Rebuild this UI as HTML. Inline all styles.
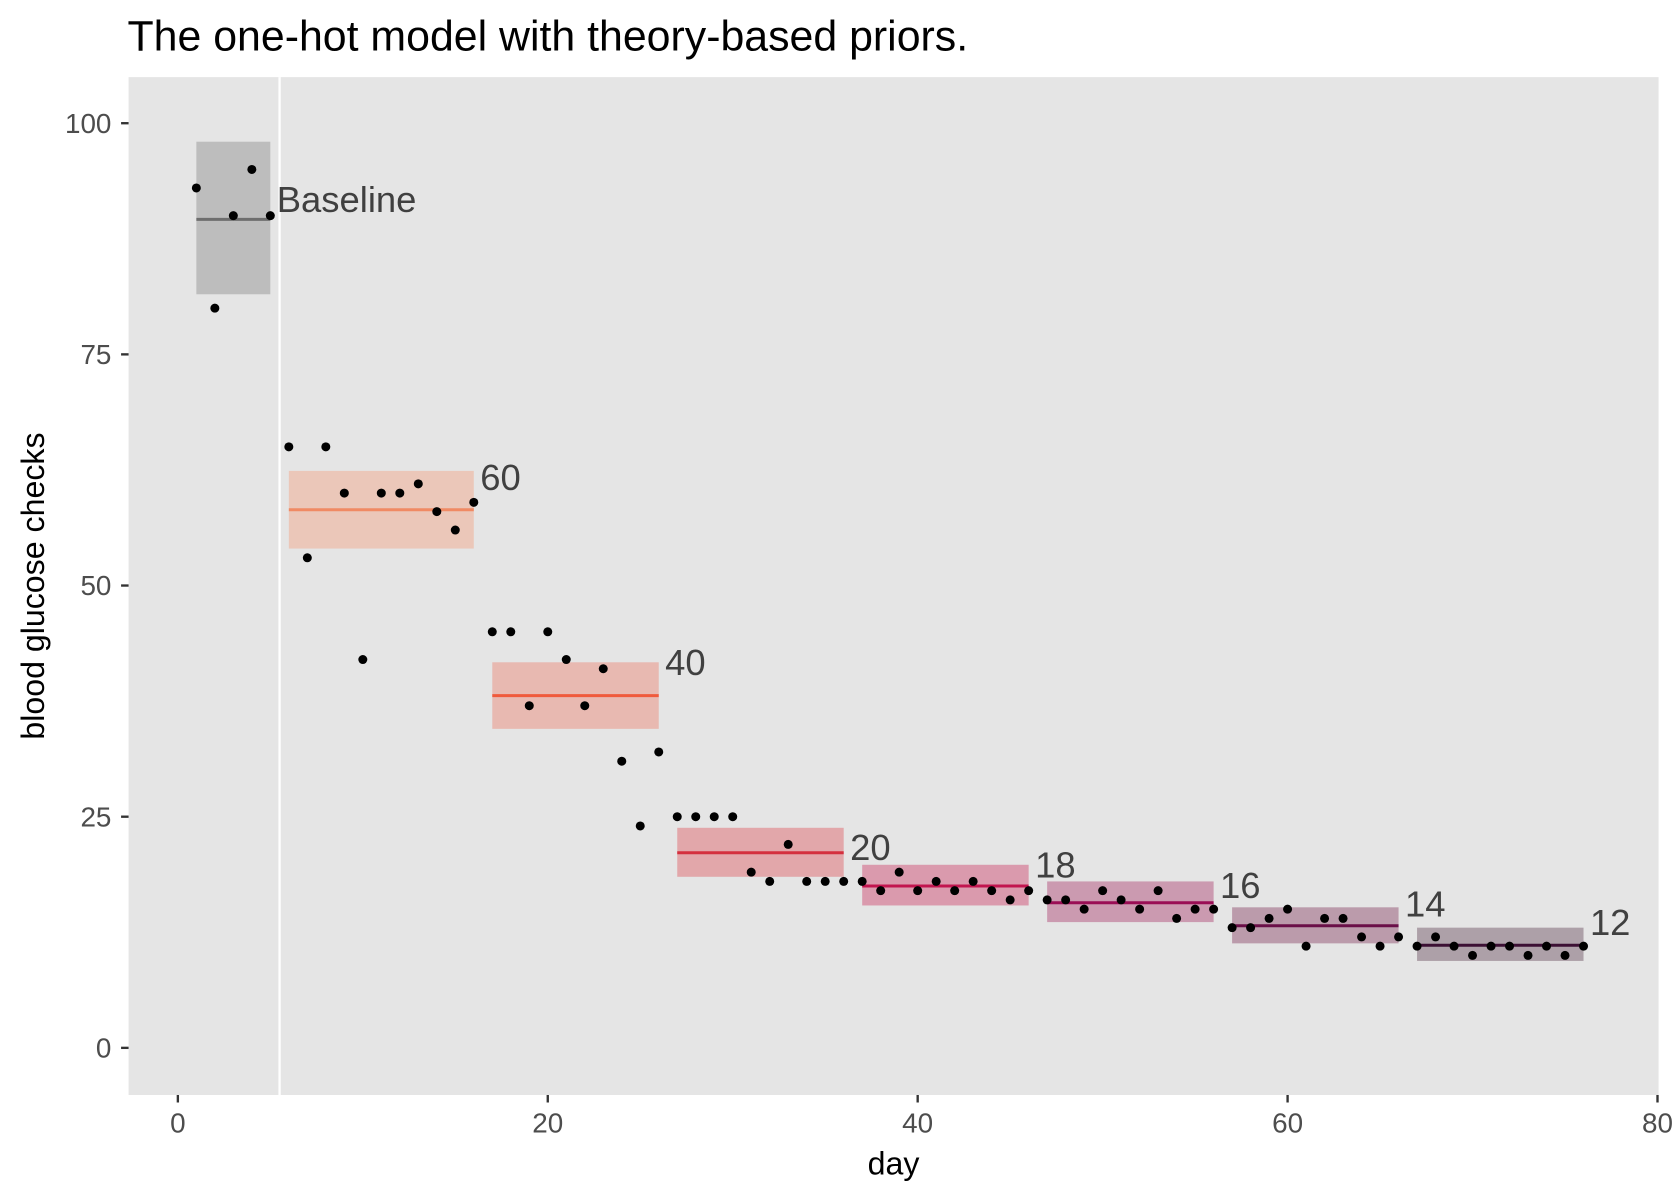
<!DOCTYPE html>
<html><head><meta charset="utf-8"><style>
html,body{margin:0;padding:0;background:#fff;}
svg{display:block;font-family:"Liberation Sans",Arial,sans-serif;}
</style></head><body>
<svg id="chart" width="1680" height="1200" viewBox="0 0 1568 1120" xmlns="http://www.w3.org/2000/svg">
<rect width="1568" height="1120" fill="#fff"/>
<text x="119" y="47" font-size="40" fill="#000">The one-hot model with theory-based priors.</text>
<rect x="120" y="72" width="1428" height="950" fill="#e5e5e5"/>
<g id="marks"></g>
<g id="axes"></g>
<text x="834" y="1096" font-size="30" text-anchor="middle" fill="#000">day</text>
<text transform="translate(41,547) rotate(-90)" font-size="30" text-anchor="middle" fill="#000">blood glucose checks</text>
</svg>
<script>
const days = [1,2,3,4,5,6,7,8,9,10,11,12,13,14,15,16,17,18,19,20,21,22,23,24,25,26,27,28,29,30,31,32,33,34,35,36,37,38,39,40,41,42,43,44,45,46,47,48,49,50,51,52,53,54,55,56,57,58,59,60,61,62,63,64,65,66,67,68,69,70,71,72,73,74,75,76];
const checks = [93,80,90,95,90, 65,53,65,60,42,60,60,61,58,56,59, 45,45,37,45,42,37,41,31,24,32, 25,25,25,25,19,18,22,18,18,18, 18,17,19,17,18,17,18,17,16,17, 16,16,15,17,16,15,17,14,15,15, 13,13,14,15,11,14,14,12,11,12, 11,12,11,10,11,11,10,11,10,11];
const phaseLabels = ["Baseline","60","40","20","18","16","14","12"];
const phaseStart = [1,6,17,27,37,47,57,67];
const phaseEnd = [5,16,26,36,46,56,66,76];
const phaseMean = [89.6,58.2,38.1,21.1,17.5,15.7,13.2,11.1];
const phaseLow = [81.5,54.0,34.5,18.5,15.4,13.6,11.3,9.4];
const phaseHigh = [98.0,62.4,41.7,23.8,19.8,18.0,15.2,13.0];
const labelY = [91.8,61.7,41.7,21.7,19.8,17.6,15.6,13.6];
const lineColors = ["#6e6e6e","#f08a64","#f05a3c","#d4303e","#c2154f","#9a0e55","#6a0f48","#3c1034"];
const bandColors = ["#bdbdbd","#ebc7b9","#e8b9b1","#e2a7aa","#da9aad","#cb9ab0","#bb9bab","#ada0a8"];
const xTicks = [0,20,40,60,80];
const yTicks = [0,25,50,75,100];
const NS="http://www.w3.org/2000/svg";
const xs = d => 166 + (d-0)*(1547-166)/80;
const ys = v => 978 - v*(978-115)/100;
const marks=document.getElementById('marks'), axes=document.getElementById('axes');
function mk(tag, attrs, parent){const e=document.createElementNS(NS,tag);for(const k in attrs)e.setAttribute(k,attrs[k]);parent.appendChild(e);return e;}
const sep = mk('line',{x1:xs(5.5),x2:xs(5.5),y1:72,y2:1022,stroke:'#fff','stroke-width':2.2},marks);


phaseLabels.forEach((lab,i)=>{
  const r=mk('rect',{x:xs(phaseStart[i]),y:ys(phaseHigh[i]),width:xs(phaseEnd[i])-xs(phaseStart[i]),height:ys(phaseLow[i])-ys(phaseHigh[i]),fill:bandColors[i]},marks);
  
  
  const l=mk('line',{x1:xs(phaseStart[i]),x2:xs(phaseEnd[i]),y1:ys(phaseMean[i]),y2:ys(phaseMean[i]),stroke:lineColors[i],'stroke-width':2.8},marks);
  
  
  const t=mk('text',{x:xs(phaseEnd[i])+6,y:ys(labelY[i])+12,'font-size':34,fill:'#404040'},marks);
  t.textContent=lab;
  
  
});
days.forEach((d,i)=>{
  const c=mk('circle',{cx:xs(d),cy:ys(checks[i]),r:4.2,fill:'#000'},marks);
  
  
});
xTicks.forEach(v=>{
  const tk=mk('line',{x1:xs(v),x2:xs(v),y1:1022,y2:1029,stroke:'#333','stroke-width':2.2},axes);
  
  
  const t=mk('text',{x:xs(v),y:1057,'font-size':26,'text-anchor':'middle',fill:'#4d4d4d'},axes);
  t.textContent=v;
  
  
});
yTicks.forEach(v=>{
  const tk=mk('line',{x1:113,x2:120,y1:ys(v),y2:ys(v),stroke:'#333','stroke-width':2.2},axes);
  
  
  const t=mk('text',{x:104,y:ys(v)+9,'font-size':26,'text-anchor':'end',fill:'#4d4d4d'},axes);
  t.textContent=v;
  
  
});
</script>
</body></html>
